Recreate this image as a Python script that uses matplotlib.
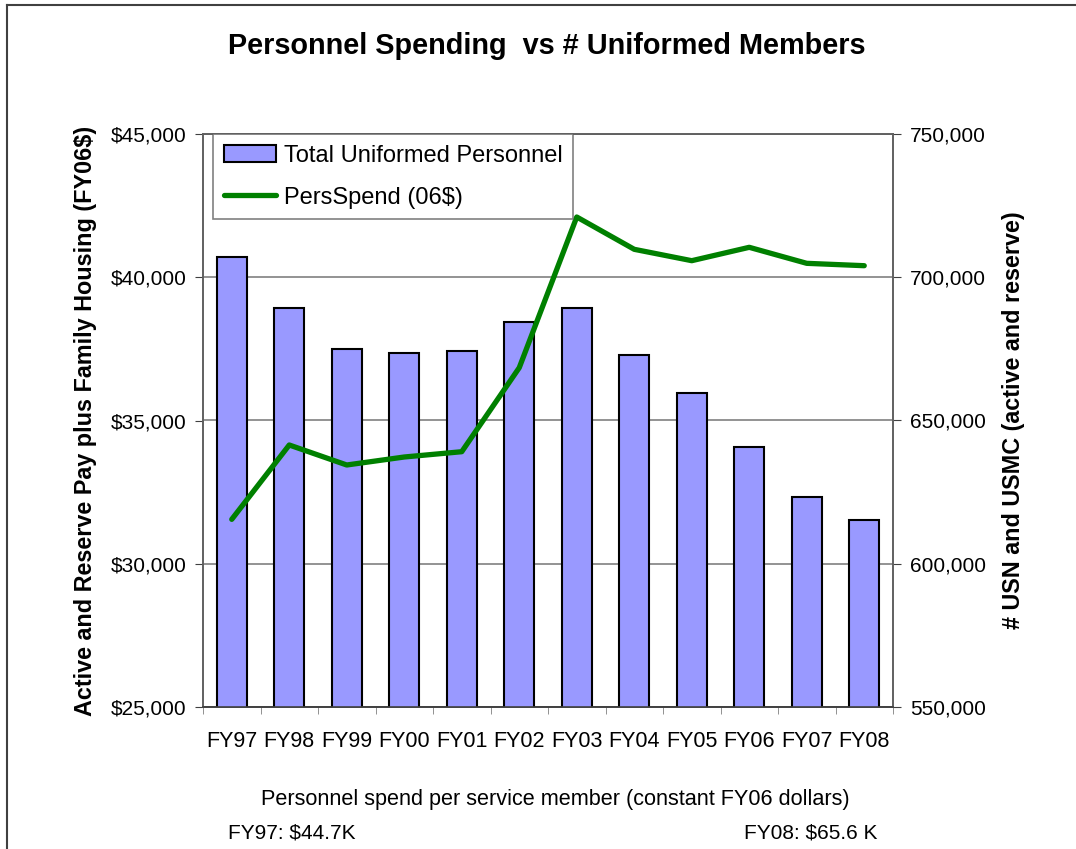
import matplotlib
matplotlib.use("Agg")
import matplotlib.pyplot as plt
from matplotlib.ticker import FuncFormatter, FixedLocator
import numpy as np

plt.rcParams['font.family'] = ['Liberation Sans', 'DejaVu Sans']

years = ["FY97", "FY98", "FY99", "FY00", "FY01", "FY02", "FY03", "FY04", "FY05", "FY06", "FY07", "FY08"]
uniformed = [707100, 689300, 675000, 673500, 674200, 684400, 689300, 672900, 659500, 640600, 623200, 615400]
pers_spend = [31550, 34145, 33447, 33726, 33911, 36843, 42103, 40975, 40578, 41045, 40486, 40403]

fig = plt.figure(figsize=(10.76, 8.49), dpi=100)
ax2 = fig.add_axes([203/1076, 1-707/849, 690/1076, 573/849])  # bars (right axis)
ax = ax2.twinx()
ax2.yaxis.tick_right()
ax2.yaxis.set_label_position("right")
ax.yaxis.tick_left()
ax.yaxis.set_label_position("left")

x = np.arange(len(years))
bars = ax2.bar(x, uniformed, width=0.52, color="#9999FF", edgecolor="black", linewidth=1.5,
               label="Total Uniformed Personnel", zorder=3)
ax2.set_ylim(550000, 750000)
ax2.set_yticks(np.arange(550000, 750001, 50000))
ax2.yaxis.set_major_formatter(FuncFormatter(lambda v, p: f"{int(v):,}"))
ax2.yaxis.grid(True, color="#808080", linewidth=1.2, zorder=0)
ax2.set_axisbelow(True)
ax2.set_xlim(-0.5, len(years) - 0.5)
ax2.set_xticks(x)
ax2.set_xticklabels(years)
ax2.xaxis.set_minor_locator(FixedLocator(np.arange(-0.5, len(years), 1.0)))
ax2.tick_params(axis='x', which='major', length=0, labelsize=15.5, pad=17)
ax2.tick_params(axis='x', which='minor', length=5, color="#808080", direction='out')
ax2.tick_params(axis='y', labelsize=15, length=6, color="#404040", pad=6)

line, = ax.plot(x, pers_spend, color="#008000", linewidth=3.8, label="PersSpend (06$)",
                solid_capstyle='round', zorder=4)
ax.set_ylim(25000, 45000)
ax.set_yticks(np.arange(25000, 45001, 5000))
ax.yaxis.set_major_formatter(FuncFormatter(lambda v, p: f"${int(v):,}"))
ax.tick_params(axis='y', labelsize=15, length=6, color="#404040", pad=6)

for a in (ax, ax2):
    for s in ("left", "right", "top"):
        a.spines[s].set_color("#606060")
        a.spines[s].set_linewidth(1.2)
    a.spines["bottom"].set_color("#404040")
    a.spines["bottom"].set_linewidth(1.2)

ax.set_ylabel("Active and Reserve Pay plus Family Housing (FY06$)", fontsize=16.8, fontweight='bold', labelpad=10)
ax2.set_ylabel("# USN and USMC (active and reserve)", fontsize=16.8, fontweight='bold', labelpad=12)

leg = ax.legend([bars, line], ["Total Uniformed Personnel", "PersSpend (06$)"],
                loc="upper left", bbox_to_anchor=(10/690, 1.0), fontsize=17, frameon=True,
                fancybox=False, edgecolor="#606060", borderpad=0.45, handlelength=2.2,
                handleheight=0.75, handletextpad=0.35, labelspacing=0.85, borderaxespad=0)
leg.get_frame().set_linewidth(1.2)

fig.text(547/1076, 1-46/849, "Personnel Spending  vs # Uniformed Members", ha="center", va="center",
         fontsize=20.8, fontweight='bold')
fig.text(555/1076, 1-800/849, "Personnel spend per service member (constant FY06 dollars)",
         ha="center", va="center", fontsize=15.6)
fig.text(228/1076, 1-833/849, "FY97: $44.7K", ha="left", va="center", fontsize=15)
fig.text(877/1076, 1-833/849, "FY08: $65.6 K", ha="right", va="center", fontsize=15)

# frame around the figure (left and top edges visible)
fig.add_artist(plt.Line2D([7/1076, 7/1076], [0, 1-5/849], color="#404040", linewidth=1.5, transform=fig.transFigure))
fig.add_artist(plt.Line2D([7/1076, 1], [1-5/849, 1-5/849], color="#404040", linewidth=1.5, transform=fig.transFigure))

fig.savefig("out.png", dpi=100)
